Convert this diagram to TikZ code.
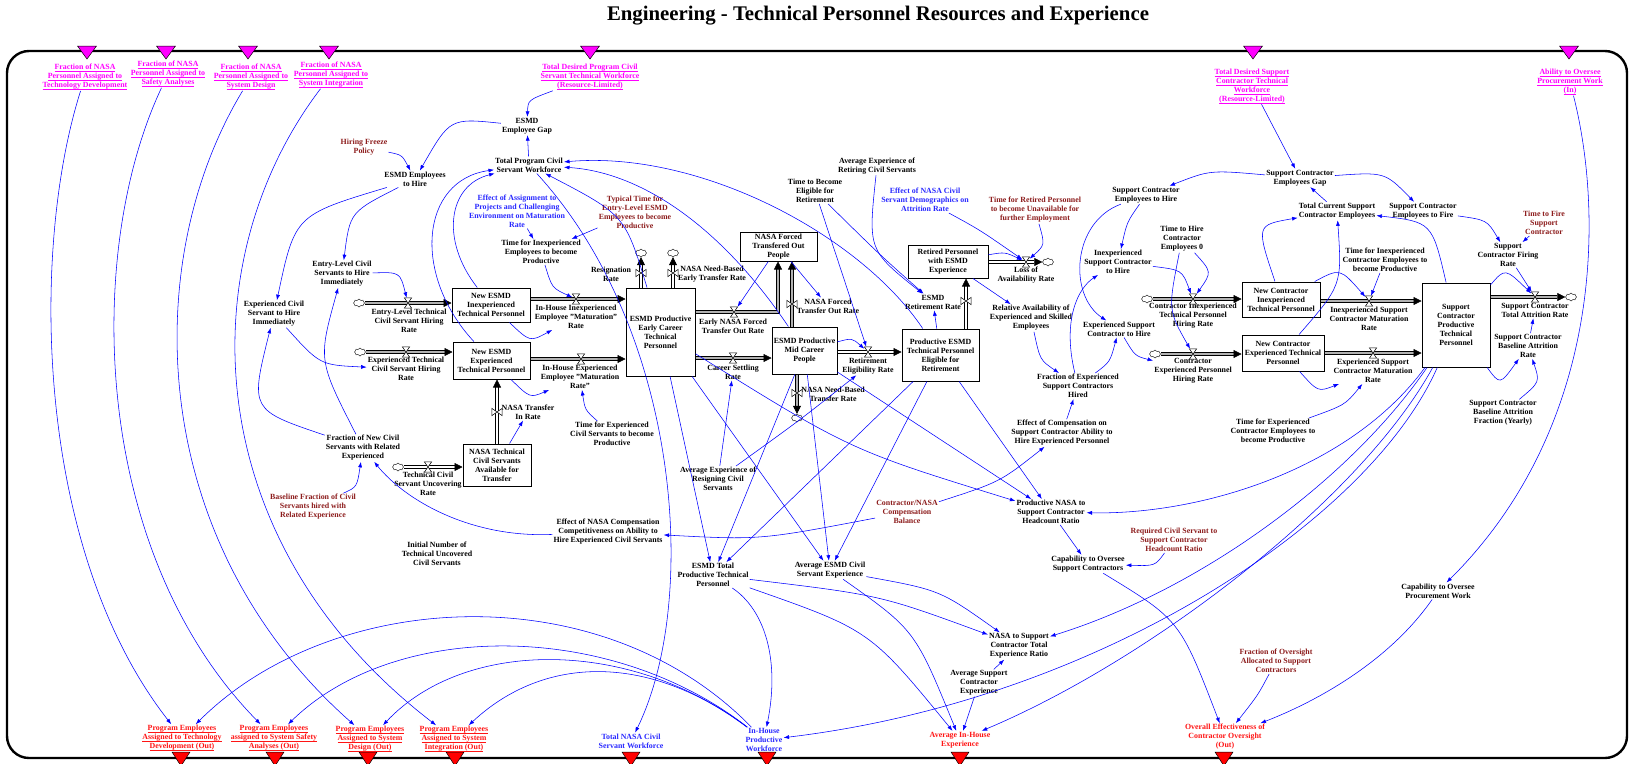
\documentclass[tikz,border=0pt]{standalone}
\usepackage{fontspec}
\setmainfont{Liberation Serif}
\usetikzlibrary{arrows.meta,shapes.symbols,calc}
\definecolor{magc}{RGB}{255,0,255}
\definecolor{darkr}{RGB}{140,28,28}
\definecolor{redt}{RGB}{255,20,20}
\definecolor{bluet}{RGB}{40,40,255}
\definecolor{conc}{RGB}{0,0,255}
\newcommand{\lbf}{\fontsize{7.9}{9}\selectfont\bfseries}
\newcommand{\uln}[1]{\sbox0{#1}\rlap{\rule[-1.7pt]{\wd0}{0.45pt}}\usebox0}
\newcommand{\mkvh}[2]{\node[inner sep=0pt,minimum width=7pt,minimum height=10pt] (#1) at (#2) {};\filldraw[fill=white,draw=black,line width=0.5pt] (#1.north west) -- (#1.north east) -- (#1.south west) -- (#1.south east) -- cycle;}
\newcommand{\mkvv}[2]{\node[inner sep=0pt,minimum width=10pt,minimum height=7pt] (#1) at (#2) {};\filldraw[fill=white,draw=black,line width=0.5pt] (#1.north west) -- (#1.south west) -- (#1.north east) -- (#1.south east) -- cycle;}
\begin{document}
\begin{tikzpicture}[x=1pt,y=-1pt,
  lb/.style={font=\lbf, align=center, inner sep=1pt},
  mg/.style={lb, text=magc},
  dr/.style={lb, text=darkr},
  bl/.style={lb, text=bluet},
  rd/.style={lb, text=redt},
  stock/.style={lb, draw, line width=1pt, fill=white, inner sep=0pt},
  cld/.style={cloud, cloud puffs=8, aspect=1.4, draw, fill=white, inner sep=0pt, minimum width=11pt, minimum height=8pt, line width=0.4pt},
  conn/.style={draw=conc, line width=0.55pt, -{Latex[length=5.5pt,width=4pt]}},
  pipe/.style={draw=black, line width=0.55pt, double=gray!60, double distance=2.6pt, -{Triangle[length=8pt,width=8pt]}},
  pipew/.style={pipe, double=white}]
\useasboundingbox (0,0) rectangle (1633,763);
% frame and title
\draw[line width=2.4pt, rounded corners=22pt] (7,51) rectangle (1627,758);
\node[font=\fontsize{20.8}{24}\selectfont\bfseries] (title) at (878,16) {Engineering - Technical Personnel Resources and Experience};
\foreach \x in {87,166,248,329,590,1253,1569}
  \filldraw[fill=magc, draw=black, line width=0.5pt] (\x-9.5,46) -- (\x+9.5,46) -- (\x,59) -- cycle;
\foreach \x in {181,275,368,455,631,767,960,1224}
  \filldraw[fill=red, draw=black, line width=0.5pt] (\x-9,752) -- (\x+9,752) -- (\x,766) -- cycle;

% top shadow variables
\node[mg] (m1) at (85,77) {\uln{Fraction of NASA}\\\uln{Personnel Assigned to}\\\uln{Technology Development}};
\node[mg] (m2) at (168,74) {\uln{Fraction of NASA}\\\uln{Personnel Assigned to}\\\uln{Safety Analyses}};
\node[mg] (m3) at (251,77) {\uln{Fraction of NASA}\\\uln{Personnel Assigned to}\\\uln{System Design}};
\node[mg] (m4) at (331,75) {\uln{Fraction of NASA}\\\uln{Personnel Assigned to}\\\uln{System Integration}};
\node[mg] (m5) at (590,77) {\uln{Total Desired Program Civil}\\\uln{Servant Technical Workforce}\\\uln{(Resource-Limited)}};
\node[mg] (m6) at (1252,86) {\uln{Total Desired Support}\\\uln{Contractor Technical}\\\uln{Workforce}\\\uln{(Resource-Limited)}};
\node[mg] (m7) at (1570,82) {\uln{Ability to Oversee}\\\uln{Procurement Work}\\\uln{(In)}};

% bottom outputs
\node[rd] (r1) at (182,738) {\uln{Program Employees}\\\uln{Assigned to Technology}\\\uln{Development (Out)}};
\node[rd] (r2) at (274,738) {\uln{Program Employees}\\\uln{assigned to System Safety}\\\uln{Analyses (Out)}};
\node[rd] (r3) at (370,739) {\uln{Program Employees}\\\uln{Assigned to System}\\\uln{Design (Out)}};
\node[rd] (r4) at (454,739) {\uln{Program Employees}\\\uln{Assigned to System}\\\uln{Integration (Out)}};
\node[bl] (b1) at (631,741) {Total NASA Civil\\Servant Workforce};
\node[bl] (b2) at (764,740) {In-House\\Productive\\Workforce};
\node[rd] (r5) at (960,740) {Average In-House\\Experience};
\node[rd] (r6) at (1225,737) {Overall Effectiveness of\\Contractor Oversight\\(Out)};

% auxiliaries
\node[dr] (hfp) at (364,147) {Hiring Freeze\\Policy};
\node[lb] (eeh) at (415,179) {ESMD Employees\\to Hire};
\node[lb] (eeg) at (527,126) {ESMD\\Employee Gap};
\node[lb] (tpc) at (529,165) {Total Program Civil\\Servant Workforce};
\node[bl] (eoa) at (517,211) {Effect of Assignment to\\Projects and Challenging\\Environment on Maturation\\Rate};
\node[dr] (ttel) at (635,212) {Typical Time for\\Entry-Level ESMD\\Employees to become\\Productive};
\node[lb] (tfie) at (541,252) {Time for Inexperienced\\Employees to become\\Productive};
\node[lb] (elc) at (342,274) {Entry-Level Civil\\Servants to Hire\\Immediately};
\node[lb] (ech) at (274,314) {Experienced Civil\\Servant to Hire\\Immediately};
\node[lb] (elr) at (409,321) {Entry-Level Technical\\Civil Servant Hiring\\Rate};
\node[lb] (exr) at (406,369) {Experienced Technical\\Civil Servant Hiring\\Rate};
\node[lb] (fnc) at (363,448) {Fraction of New Civil\\Servants with Related\\Experienced};
\node[dr] (bfc) at (313,507) {Baseline Fraction of Civil\\Servants hired with\\Related Experience};
\node[lb] (tcu) at (428,484) {Technical Civil\\Servant Uncovering\\Rate};
\node[lb] (ihi) at (576,317) {In-House Inexperienced\\Employee "Maturation"\\Rate};
\node[lb] (ihe) at (580,377) {In-House Experienced\\Employee "Maturation\\Rate"};
\node[lb] (rsr) at (611,274) {Resignation\\Rate};
\node[lb] (nbe) at (712,274) {NASA Need-Based\\Early Transfer Rate};
\node[lb] (enf) at (733,326) {Early NASA Forced\\Transfer Out Rate};
\node[lb] (csr) at (733,372) {Career Settling\\Rate};
\node[lb] (ntr) at (528,412) {NASA Transfer\\In Rate};
\node[lb] (tfec) at (612,434) {Time for Experienced\\Civil Servants to become\\Productive};
\node[lb] (aer) at (718,479) {Average Experience of\\Resigning Civil\\Servants};
\node[lb] (nft) at (828,306) {NASA Forced\\Transfer Out Rate};
\node[lb] (nbt) at (833,394) {NASA Need-Based\\Transfer Rate};
\node[lb] (rer) at (868,366) {Retirement\\Eligibility Rate};
\node[lb] (esr) at (933,302) {ESMD\\Retirement Rate};
\node[lb] (loa) at (1026,275) {Loss of\\Availability Rate};
\node[lb] (aerc) at (877,166) {Average Experience of\\Retiring Civil Servants};
\node[lb] (tbe) at (815,191) {Time to Become\\Eligible for\\Retirement};
\node[bl] (edn) at (925,200) {Effect of NASA Civil\\Servant Demographics on\\Attrition Rate};
\node[dr] (trp) at (1035,210) {Time for Retired Personnel\\to become Unavailable for\\further Employment};
\node[lb] (rae) at (1031,318) {Relative Availability of\\Experienced and Skilled\\Employees};
\node[lb] (fes) at (1078,386) {Fraction of Experienced\\Support Contractors\\Hired};
\node[lb] (esh) at (1119,329) {Experienced Support\\Contractor to Hire};
\node[lb] (ecs) at (1062,433) {Effect of Compensation on\\Support Contractor Ability to\\Hire Experienced Personnel};
\node[lb] (sch) at (1146,195) {Support Contractor\\Employees to Hire};
\node[lb] (thc) at (1182,239) {Time to Hire\\Contractor\\Employees 0};
\node[lb] (isc) at (1118,262) {Inexperienced\\Support Contractor\\to Hire};
\node[lb] (cir) at (1193,316) {Contractor Inexperienced\\Technical Personnel\\Hiring Rate};
\node[lb] (cer) at (1193,371) {Contractor\\Experienced Personnel\\Hiring Rate};
\node[dr] (cnb) at (907,512) {Contractor/NASA\\Compensation\\Balance};
\node[lb] (pns) at (1051,512) {Productive NASA to\\Support Contractor\\Headcount Ratio};
\node[lb] (scg) at (1300,178) {Support Contractor\\Employees Gap};
\node[lb] (tcs) at (1337,211) {Total Current Support\\Contractor Employees};
\node[lb] (scf) at (1423,211) {Support Contractor\\Employees to Fire};
\node[dr] (ttf) at (1544,223) {Time to Fire\\Support\\Contractor};
\node[lb] (sfr) at (1508,255) {Support\\Contractor Firing\\Rate};
\node[lb] (tic) at (1385,260) {Time for Inexperienced\\Contractor Employees to\\become Productive};
\node[lb] (ism) at (1369,319) {Inexperienced Support\\Contractor Maturation\\Rate};
\node[lb] (esm) at (1373,371) {Experienced Support\\Contractor Maturation\\Rate};
\node[lb] (sta) at (1535,310) {Support Contractor\\Total Attrition Rate};
\node[lb] (sba) at (1528,346) {Support Contractor\\Baseline Attrition\\Rate};
\node[lb] (sbf) at (1503,413) {Support Contractor\\Baseline Attrition\\Fraction (Yearly)};
\node[lb] (tec) at (1273,431) {Time for Experienced\\Contractor Employees to\\become Productive};
\node[lb] (inu) at (437,554) {Initial Number of\\Technical Uncovered\\Civil Servants};
\node[lb] (enc) at (608,532) {Effect of NASA Compensation\\Competitiveness on Ability to\\Hire Experienced Civil Servants};
\node[lb] (etp) at (713,575) {ESMD Total\\Productive Technical\\Personnel};
\node[lb] (aec) at (830,570) {Average ESMD Civil\\Servant Experience};
\node[lb] (cos) at (1088,564) {Capability to Oversee\\Support Contractors};
\node[dr] (rcs) at (1174,540) {Required Civil Servant to\\Support Contractor\\Headcount Ratio};
\node[lb] (nst) at (1019,646) {NASA to Support\\Contractor Total\\Experience Ratio};
\node[lb] (asc) at (979,683) {Average Support\\Contractor\\Experience};
\node[lb] (cop) at (1438,591) {Capability to Oversee\\Procurement Work};
\node[dr] (foa) at (1276,661) {Fraction of Oversight\\Allocated to Support\\Contractors};

% stocks
\node[stock, minimum width=78pt, minimum height=34pt] (nei) at (491,305) {New ESMD\\Inexperienced\\Technical Personnel};
\node[stock, minimum width=77pt, minimum height=37pt] (nee) at (491.5,360.5) {New ESMD\\Experienced\\Technical Personnel};
\node[stock, minimum width=68pt, minimum height=42pt] (ntc) at (497,465) {NASA Technical\\Civil Servants\\Available for\\Transfer};
\node[stock, minimum width=69pt, minimum height=88pt] (ecb) at (660.5,332) {ESMD Productive\\Early Career\\Technical\\Personnel};
\node[stock, minimum width=77pt, minimum height=29pt] (nfp) at (778.5,246.5) {NASA Forced\\Transfered Out\\People};
\node[stock, minimum width=65pt, minimum height=47pt] (mcb) at (804.5,350.5) {ESMD Productive\\Mid Career\\People};
\node[stock, minimum width=77pt, minimum height=52pt] (peb) at (940.5,355) {Productive ESMD\\Technical Personnel\\Eligible for\\Retirement};
\node[stock, minimum width=80pt, minimum height=33pt] (rpb) at (948,261.5) {Retired Personnel\\with ESMD\\Experience};
\node[stock, minimum width=78pt, minimum height=35pt] (nci) at (1281,299.5) {New Contractor\\Inexperienced\\Technical Personnel};
\node[stock, minimum width=82pt, minimum height=36pt] (nce) at (1283,353) {New Contractor\\Experienced Technical\\Personnel};
\node[stock, minimum width=68pt, minimum height=84pt] (scb) at (1456,325) {Support\\Contractor\\Productive\\Technical\\Personnel};

% clouds
\node[cld] (k1) at (359,303) {};
\node[cld] (k2) at (360,352) {};
\node[cld] (k5) at (641,253) {};
\node[cld] (k6) at (673,253) {};
\node[cld] (k10) at (797,418) {};
\node[cld] (k13) at (1048,262) {};
\node[cld] (k15) at (398,467) {};
\node[cld] (k16) at (1147,299) {};
\node[cld] (k17) at (1155,354) {};
\node[cld] (k20) at (1571,297) {};

% pipes
\draw[pipe] (k1) -- (k1 -| nei.west);
\draw[pipe] (k2) -- (k2 -| nee.west);
\coordinate (q3) at (0,299); \draw[pipe] (nei.east |- q3) -- (ecb.west |- q3);
\coordinate (q4) at (0,359); \draw[pipe] (nee.east |- q4) -- (ecb.west |- q4);
\draw[pipew] (k5 |- ecb.north) -- (k5);
\draw[pipew] (k6 |- ecb.north) -- (k6);
\coordinate (q7) at (778,312); \draw[pipe] (ecb.east |- q7) -- (q7) -- (q7 |- nfp.south);
\coordinate (q8) at (0,358); \draw[pipe] (ecb.east |- q8) -- (mcb.west |- q8);
\coordinate (q9) at (792,0); \draw[pipe] (q9 |- mcb.north) -- (q9 |- nfp.south);
\draw[pipe] (k10 |- mcb.south) -- (k10);
\coordinate (q11) at (0,352); \draw[pipew] (mcb.east |- q11) -- (peb.west |- q11);
\coordinate (q12) at (966,0); \draw[pipew] (q12 |- peb.north) -- (q12 |- rpb.south);
\coordinate (q13) at (0,262); \draw[pipew] (rpb.east |- q13) -- (k13);
\coordinate (q14) at (497,0); \draw[pipew] (q14 |- ntc.north) -- (q14 |- nee.south);
\draw[pipew] (k15) -- (k15 -| ntc.west);
\draw[pipe] (k16) -- (k16 -| nci.west);
\draw[pipe] (k17) -- (k17 -| nce.west);
\coordinate (q18) at (0,301); \draw[pipe] (nci.east |- q18) -- (scb.west |- q18);
\coordinate (q19) at (0,353); \draw[pipe] (nce.east |- q19) -- (scb.west |- q19);
\coordinate (q20) at (0,297); \draw[pipe] (scb.east |- q20) -- (k20);

% valves
\mkvh{v1}{408,303} \mkvh{v2}{406,352} \mkvh{v3}{576,299} \mkvh{v4}{581,359}
\mkvv{v5}{641,273} \mkvv{v6}{673,273} \mkvh{v7}{734,312} \mkvh{v8}{733,358}
\mkvv{v9}{792,304} \mkvv{v10}{797,393} \mkvh{v11}{868,352} \mkvv{v12}{966,301}
\mkvh{v13}{1026,262} \mkvv{v14}{497,412} \mkvh{v15}{428,467} \mkvh{v16}{1193,299}
\mkvh{v17}{1193,354} \mkvh{v18}{1369,301} \mkvh{v19}{1373,353} \mkvh{v20}{1535,297}

% connectors: inputs to outputs
\draw[conn] (m1) .. controls (30,250) and (35,550) .. (r1);
\draw[conn] (m2) .. controls (85,250) and (90,550) .. (r2);
\draw[conn] (m3) .. controls (140,260) and (145,540) .. (r3);
\draw[conn] (m4) .. controls (190,260) and (195,540) .. (r4);
\draw[conn] (b2) .. controls (600,572) and (330,590) .. (r1);
\draw[conn] (b2) .. controls (610,620) and (395,620) .. (r2);
\draw[conn] (b2) .. controls (630,638) and (465,638) .. (r3);
\draw[conn] (b2) .. controls (650,654) and (545,654) .. (r4);
\draw[conn] (etp) .. controls (765,610) and (780,660) .. (b2);
\draw[conn] (tpc) .. controls (680,330) and (700,600) .. (b1);
\draw[conn] (scb) .. controls (1350,470) and (1200,515) .. (pns);
\draw[conn] (scb) .. controls (1350,480) and (1200,590) .. (nst);
\draw[conn] (scb) .. controls (1360,500) and (1150,660) .. (r5);
\draw[conn] (scb) .. controls (1370,520) and (1100,700) .. (b2);
\draw[conn] (m7) .. controls (1605,220) and (1600,430) .. (cop);
\draw[conn] (cop) .. controls (1390,660) and (1320,700) .. (r6);
\draw[conn] (foa) .. controls (1258,695) .. (r6);
\draw[conn] (cos) .. controls (1180,620) .. (r6);
\draw[conn] (rcs) .. controls (1155,566) .. (cos);
\draw[conn] (pns) -- (cos);
\draw[conn] (asc) -- (nst);
\draw[conn] (asc) -- (r5);
\draw[conn] (aec) .. controls (940,590) .. (nst);
\draw[conn] (aec) .. controls (915,630) .. (r5);
\draw[conn] (etp) .. controls (880,595) .. (nst);
\draw[conn] (etp) .. controls (870,630) .. (r5);
\draw[conn] (ecb) -- (etp);
\draw[conn] (mcb) -- (etp);
\draw[conn] (peb) -- (etp);
\draw[conn] (ecb) -- (aec);
\draw[conn] (mcb) -- (aec);
\draw[conn] (peb) -- (aec);
\draw[conn] (ecb) .. controls (850,450) .. (pns);
\draw[conn] (mcb) -- (pns);
\draw[conn] (peb) -- (pns);
% civil servant hiring
\draw[conn] (m5) .. controls (528,100) .. (eeg);
\draw[conn] (tpc) -- (eeg);
\draw[conn] (eeg) .. controls (450,118) .. (eeh);
\draw[conn] (hfp) .. controls (402,155) .. (eeh);
\draw[conn] (eeh) .. controls (350,212) .. (elc);
\draw[conn] (eeh) .. controls (295,215) .. (ech);
\draw[conn] (elc) .. controls (400,272) .. (v1);
\draw[conn] (ech) .. controls (320,365) .. (exr);
\draw[conn] (fnc) .. controls (250,410) .. (ech);
\draw[conn] (fnc) .. controls (318,360) .. (elc);
\draw[conn] (bfc) .. controls (357,487) .. (fnc);
\draw[conn] (enc) .. controls (470,538) and (405,500) .. (fnc);
\draw[conn] (cnb) .. controls (760,540) .. (enc);
\draw[conn] (cnb) .. controls (1000,482) .. (ecs);
\draw[conn] (ecs) -- (fes);
\draw[conn] (rae) .. controls (1040,360) .. (fes);
\draw[conn] (rpb) -- (rae);
\draw[conn] (fes) .. controls (1110,362) .. (esh);
\draw[conn] (fes) .. controls (1062,320) and (1078,288) .. (isc);
\draw[conn] (sch) .. controls (1127,222) .. (isc);
\draw[conn] (sch) .. controls (1072,222) and (1068,295) .. (esh);
% support contractor side
\draw[conn] (scg) .. controls (1210,170) .. (sch);
\draw[conn] (m6) -- (scg);
\draw[conn] (tcs) -- (scg);
\draw[conn] (scg) .. controls (1385,172) .. (scf);
\draw[conn] (scf) .. controls (1487,220) .. (sfr);
\draw[conn] (ttf) -- (sfr);
\draw[conn] (sfr) -- (v20);
\draw[conn] (sba) -- (sta);
\draw[conn] (sbf) .. controls (1540,382) .. (sba);
\draw[conn] (scb) .. controls (1500,385) .. (sba);
\draw[conn] (scb) .. controls (1505,268) .. (v20);
\draw[conn] (isc) .. controls (1182,270) .. (v16);
\draw[conn] (thc) .. controls (1212,272) .. (v16);
\draw[conn] (thc) .. controls (1168,310) .. (v17);
\draw[conn] (esh) .. controls (1135,356) .. (cer);
\draw[conn] (nci) .. controls (1340,268) .. (v18);
\draw[conn] (tic) -- (v18);
\draw[conn] (nci) .. controls (1256,225) .. (tcs);
\draw[conn] (nce) .. controls (1342,285) .. (tcs);
\draw[conn] (scb) .. controls (1432,222) .. (tcs);
\draw[conn] (nce) .. controls (1318,392) .. (esm);
\draw[conn] (tec) .. controls (1345,405) .. (esm);
% centre
\draw[conn] (ttel) -- (tfie);
\draw[conn] (eoa) -- (tfie);
\draw[conn] (tfie) .. controls (552,288) .. (v3);
\draw[conn] (nei) .. controls (530,342) .. (ihi);
\draw[conn] (nee) .. controls (530,398) .. (ihe);
\draw[conn] (tfec) .. controls (585,410) .. (ihe);
\draw[conn] (ntc) -- (ntr);
\draw[conn] (nei) .. controls (440,240) and (448,185) .. (tpc);
\draw[conn] (nee) .. controls (412,275) and (420,180) .. (tpc);
\draw[conn] (ecb) .. controls (625,215) .. (tpc);
\draw[conn] (mcb) .. controls (720,225) and (640,172) .. (tpc);
\draw[conn] (peb) .. controls (860,235) and (700,150) .. (tpc);
\draw[conn] (nfp) -- (v7);
\draw[conn] (nfp) -- (nft);
\draw[conn] (tbe) -- (v11);
\draw[conn] (tbe) .. controls (880,255) .. (esr);
\draw[conn] (aerc) .. controls (868,250) .. (esr);
\draw[conn] (peb) -- (esr);
\draw[conn] (mcb) .. controls (852,338) .. (v11);
\draw[conn] (aer) -- (csr);
\draw[conn] (aer) .. controls (800,420) .. (rer);
\draw[conn] (edn) .. controls (980,230) .. (v13);
\draw[conn] (trp) .. controls (1045,245) .. (v13);
\draw[conn] (rpb) .. controls (1005,252) .. (v13);
\end{tikzpicture}
\end{document}
